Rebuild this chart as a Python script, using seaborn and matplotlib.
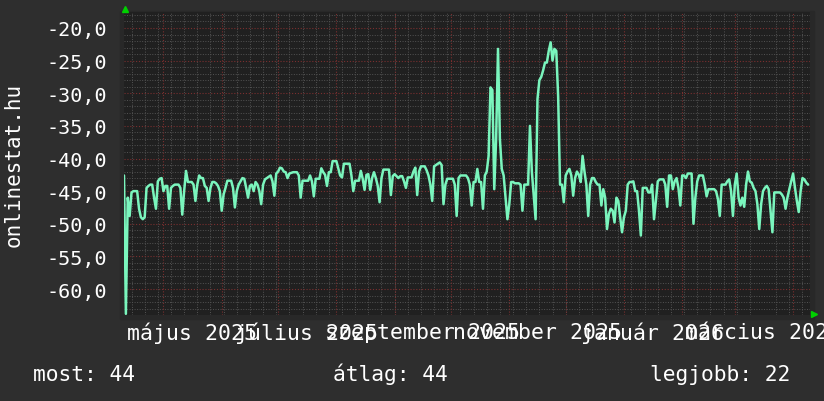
import pandas as pd
import matplotlib
matplotlib.use('Agg')
import matplotlib.pyplot as plt
import matplotlib.dates as mdates
import matplotlib.transforms as mtransforms
from matplotlib.ticker import MultipleLocator, FuncFormatter
from matplotlib.patches import Rectangle
import seaborn as sns

# daily rank values (shown as negatives, higher = better), starting 2025-04-10
start_date = '2025-04-10'
rank = [
    -42.6, -63.8, -46.0, -48.8, -45.2, -45.0, -45.0,
    -45.0, -47.7, -49.0, -49.3, -49.0, -44.5, -44.2,
    -44.0, -44.0, -46.0, -47.7, -43.5, -43.1, -43.0,
    -45.0, -44.2, -44.2, -47.7, -44.5, -44.2, -44.0,
    -44.0, -44.0, -44.5, -48.6, -45.0, -41.9, -43.6,
    -43.6, -43.6, -44.0, -46.5, -44.0, -42.6, -43.0,
    -43.0, -44.2, -44.5, -46.5, -44.5, -43.6, -43.6,
    -43.8, -44.2, -45.0, -48.0, -45.5, -44.5, -43.4,
    -43.4, -43.4, -44.5, -47.5, -45.0, -44.0, -43.5,
    -43.0, -43.1, -44.5, -46.0, -44.2, -44.0, -45.0,
    -43.6, -44.0, -45.0, -47.0, -44.0, -43.2, -43.0,
    -42.8, -42.6, -43.5, -45.7, -42.3, -42.0, -41.4,
    -41.5, -42.0, -42.1, -43.0, -42.3, -42.2, -42.1,
    -42.1, -42.1, -42.6, -46.0, -43.4, -43.4, -43.4,
    -43.4, -42.6, -43.5, -45.8, -43.1, -43.1, -43.1,
    -41.5, -42.1, -42.5, -44.2, -42.1, -42.1, -40.4,
    -40.4, -40.4, -41.5, -42.6, -42.9, -40.8, -40.8,
    -40.8, -40.8, -42.6, -45.0, -43.4, -43.4, -43.4,
    -41.9, -43.1, -44.8, -42.5, -42.4, -44.8, -43.0,
    -42.1, -43.0, -44.2, -46.7, -43.0, -41.7, -41.7,
    -41.7, -41.7, -45.6, -42.7, -42.4, -42.7, -43.0,
    -42.7, -42.7, -43.5, -44.5, -42.9, -42.9, -42.9,
    -42.0, -41.4, -45.6, -42.0, -41.2, -41.2, -41.2,
    -41.8, -42.6, -44.0, -46.5, -41.2, -41.0, -40.8,
    -40.6, -41.0, -47.0, -44.0, -43.1, -43.1, -43.1,
    -43.1, -44.0, -48.8, -43.0, -42.6, -42.6, -42.6,
    -42.6, -43.0, -44.0, -47.2, -43.6, -43.6, -41.6,
    -43.6, -43.6, -47.7, -42.6, -42.0, -39.6, -29.1,
    -29.5, -44.7, -37.0, -23.2, -37.0, -41.6, -42.6,
    -46.0, -49.3, -47.0, -43.6, -43.6, -43.8, -43.8,
    -43.8, -44.0, -48.0, -44.0, -44.0, -44.0, -35.0,
    -42.0, -45.7, -49.3, -30.9, -28.0, -27.5, -26.5,
    -25.3, -25.3, -23.5, -22.2, -25.0, -23.2, -23.5,
    -30.5, -44.0, -44.0, -46.7, -42.6, -42.0, -41.6,
    -42.6, -45.7, -43.0, -42.0, -42.5, -43.6, -39.6,
    -42.0, -44.0, -48.8, -44.0, -43.0, -43.0, -43.6,
    -44.0, -44.0, -47.2, -44.7, -46.0, -50.8, -48.5,
    -47.7, -48.0, -49.8, -46.0, -46.5, -49.0, -51.3,
    -49.0, -48.0, -44.0, -43.6, -43.6, -43.5, -45.0,
    -45.0, -48.0, -51.8, -44.5, -44.5, -44.5, -45.2,
    -45.2, -44.0, -49.3, -46.5, -43.5, -43.2, -43.2,
    -43.2, -44.0, -47.4, -42.6, -42.6, -44.7, -43.5,
    -43.0, -44.5, -47.2, -42.6, -42.6, -43.0, -42.3,
    -42.3, -42.3, -50.0, -46.0, -43.5, -42.6, -42.6,
    -42.6, -44.0, -45.8, -44.7, -44.7, -44.7, -44.7,
    -45.0, -46.2, -48.8, -44.0, -44.0, -44.0, -43.5,
    -43.2, -45.0, -48.8, -44.0, -42.3, -46.0, -47.2,
    -46.0, -47.4, -44.0, -42.0, -43.5, -43.7, -44.5,
    -45.0, -47.0, -50.8, -47.0, -45.0, -44.5, -44.2,
    -44.7, -48.0, -51.3, -45.2, -45.2, -45.2, -45.2,
    -45.5, -46.0, -47.7, -46.0, -44.7, -43.5, -42.3,
    -44.5, -46.5, -48.2, -45.0, -43.0, -43.2, -43.7,
    -44.0,
]

label_dates = ['2025-05-16', '2025-07-16', '2025-09-16',
               '2025-11-16', '2026-01-16', '2026-03-16']
month_labels = ['május 2025', 'július 2025', 'szeptember 2025',
                'november 2025', 'január 2026', 'március 2026']
legend_names = ['most', 'átlag', 'legjobb']
legend_values = [44, 44, 22]

df = pd.DataFrame({
    'date': pd.date_range(start_date, periods=len(rank), freq='D'),
    'rank': rank,
})

sns.set_theme(style='dark')
plt.rcParams['font.family'] = ['DejaVu Sans Mono', 'DejaVu Sans']

W, H = 824, 402
fig = plt.figure(figsize=(W / 100, H / 100), dpi=100)
fig.patch.set_facecolor('#2e2e2e')

# slightly lighter frame just around the canvas
fig.patches.append(Rectangle((120 / W, 1 - 320 / H), 694 / W, 308 / H,
                             transform=fig.transFigure, color='#282828', zorder=-5))

ax = fig.add_axes([124 / W, 1 - 316 / H, 686 / W, 303 / H])
ax.set_zorder(1)
ax.set_facecolor('#202020')

sns.lineplot(data=df, x='date', y='rank', color='#7af5bd', linewidth=1.8, ax=ax, zorder=5)

x0 = pd.Timestamp('2025-04-10')
x1 = pd.Timestamp('2026-04-10')
ax.set_xlim(x0, x1)
ax.set_ylim(-63.98, -17.55)

# grid: y minor every 1, major every 5 (red)
dots = (0, (1, 1.6))
ax.yaxis.set_major_locator(MultipleLocator(5))
ax.yaxis.set_minor_locator(MultipleLocator(1))
ax.yaxis.set_major_formatter(FuncFormatter(lambda v, p: f'{v:.1f}'.replace('.', ',')))
ax.grid(which='minor', axis='y', color='#535353', linestyle=dots, linewidth=0.7)
ax.grid(which='major', axis='y', color='#7a2f2f', linestyle=dots, linewidth=0.8)

# x: weekly minor grid, monthly red lines, labels mid-month
ax.xaxis.set_minor_locator(mdates.WeekdayLocator(byweekday=mdates.MO))
ax.grid(which='minor', axis='x', color='#535353', linestyle=dots, linewidth=0.7)
ax.grid(False, which='major', axis='x')
for m in mdates.MonthLocator().tick_values(x0, x1):
    ax.axvline(m, color='#7a2f2f', linestyle=dots, linewidth=0.8, zorder=1)
ax.set_xticks(pd.to_datetime(label_dates))
ax.set_xticklabels(month_labels)

ax.tick_params(axis='both', which='both', length=0, colors='white')
ax.tick_params(axis='x', labelsize=15.5, pad=5)
ax.tick_params(axis='y', labelsize=14.5, pad=12)
for lbl in ax.get_xticklabels():
    lbl.set_clip_on(False)
ax.set_xlabel('')
ax.set_ylabel('')
for s in ax.spines.values():
    s.set_visible(False)

# little green arrows at the axis ends
arrow_up = mtransforms.offset_copy(ax.transAxes, fig=fig, x=1, y=3, units='dots')
ax.plot([0], [1], marker='^', color='#00d000', markersize=4.5, transform=arrow_up,
        clip_on=False, zorder=6)
arrow_right = mtransforms.offset_copy(ax.transAxes, fig=fig, x=4, y=1, units='dots')
ax.plot([1], [0], marker='>', color='#00d000', markersize=4.5, transform=arrow_right,
        clip_on=False, zorder=6)

fig.text(14 / W, 1 - 165 / H, 'onlinestat.hu', rotation=90, color='white',
         fontsize=15, ha='center', va='center')

legend_x = [33, 333, 650]
for x, name, val in zip(legend_x, legend_names, legend_values):
    fig.text(x / W, 1 - 381 / H, f'{name}: {val}', color='white', fontsize=15.3,
             ha='left', va='baseline')

fig.savefig('out.png', dpi=100, facecolor=fig.get_facecolor())
